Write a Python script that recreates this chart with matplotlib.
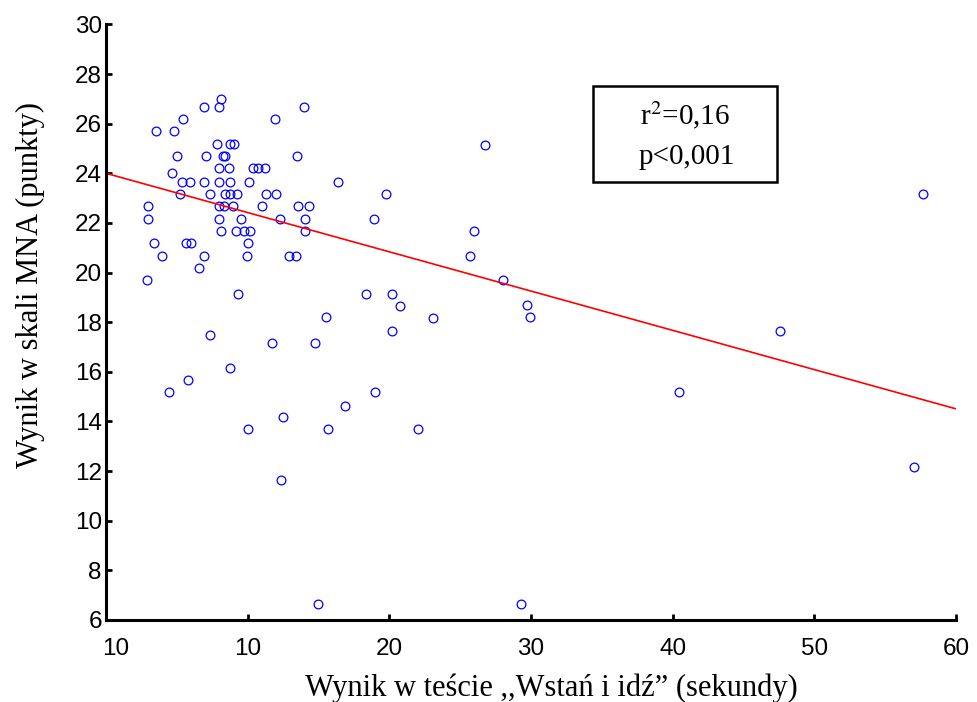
import matplotlib
matplotlib.use("Agg")
import matplotlib.pyplot as plt
import matplotlib.transforms as mtransforms
import numpy as np

# Timed Up and Go test time (seconds) and MNA score (points) per patient
tug_seconds = [
    8.12, 6.94, 8.00, 14.00, 5.46, 11.95, 3.53, 4.80, 7.86, 8.73,
    9.01, 4.99, 7.04, 8.26, 8.42, 13.46, 8.00, 8.66, 10.40, 10.73,
    11.22, 4.66, 5.34, 5.93, 6.94, 8.00, 8.75, 10.07, 16.36, 5.20,
    7.36, 8.38, 8.75, 9.27, 11.27, 12.00, 2.99, 8.00, 8.33, 8.99,
    11.01, 13.55, 14.33, 2.99, 8.00, 9.51, 12.28, 14.03, 8.12, 9.18,
    9.74, 10.19, 14.03, 3.41, 5.63, 5.98, 10.04, 3.93, 6.94, 9.93,
    12.92, 13.39, 6.59, 2.89, 9.30, 15.51, 18.35, 20.19, 20.73, 23.08,
    20.19, 7.34, 11.72, 14.75, 8.75, 5.77, 4.47, 19.01, 16.87, 12.49,
    10.02, 15.69, 22.04, 12.37, 14.94, 26.72, 19.76, 18.90, 25.98, 25.67,
    28.00, 29.72, 29.93, 29.29, 40.42, 57.01, 57.65, 47.60,
]
mna_points = [
    27.00, 26.66, 26.66, 26.66, 26.17, 26.17, 25.70, 25.70, 25.17, 25.17,
    25.17, 24.68, 24.68, 24.68, 24.68, 24.68, 24.20, 24.20, 24.20, 24.20,
    24.20, 24.00, 23.66, 23.66, 23.66, 23.66, 23.66, 23.66, 23.66, 23.18,
    23.18, 23.18, 23.18, 23.18, 23.18, 23.18, 22.69, 22.69, 22.69, 22.69,
    22.69, 22.69, 22.69, 22.16, 22.16, 22.16, 22.16, 22.16, 21.67, 21.67,
    21.67, 21.67, 21.67, 21.19, 21.19, 21.19, 21.19, 20.65, 20.65, 20.65,
    20.65, 20.65, 20.17, 19.70, 19.15, 18.19, 19.15, 19.15, 18.66, 18.18,
    17.64, 17.49, 17.16, 17.16, 16.14, 15.67, 15.19, 15.19, 14.63, 14.17,
    13.68, 13.68, 13.68, 11.64, 6.66, 25.15, 23.18, 22.16, 21.67, 20.65,
    19.69, 18.68, 18.19, 6.64, 15.17, 12.18, 23.18, 17.64,
]

# Regression line: intercept and slope
fit_intercept = 24.0
fit_slope = -0.1582
fit_x = [0, 60]

x_ticks = [0, 10, 20, 30, 40, 50, 60]
x_tick_labels = ["10", "10", "20", "30", "40", "50", "60"]
y_ticks = list(range(6, 31, 2))

r2_text = "r$^2$=0,16"
p_text = "p<0,001"

W, H, DPI = 977, 702, 100
fig = plt.figure(figsize=(W / DPI, H / DPI), dpi=DPI)
ax = fig.add_axes([106 / W, 1 - 620 / H, (956 - 106) / W, (620 - 24.4) / H])

ax.plot(tug_seconds, mna_points, linestyle="none", marker="o",
        markersize=6.3, markerfacecolor="none", markeredgecolor="#0000ff",
        markeredgewidth=0.9)

fx = np.array(fit_x, dtype=float)
ax.plot(fx, fit_intercept + fit_slope * fx, color="#ff0000", linewidth=1.2)

ax.set_xlim(0, 60)
ax.set_ylim(6, 30)
ax.set_xticks(x_ticks)
ax.set_xticklabels(x_tick_labels)
ax.set_yticks(y_ticks)

for side in ("top", "right"):
    ax.spines[side].set_visible(False)
for side in ("left", "bottom"):
    ax.spines[side].set_linewidth(2.2)

ax.tick_params(direction="in", length=4, width=2.0,
               labelsize=17.5, colors="black")
ax.tick_params(axis="x", pad=13)
ax.tick_params(axis="y", pad=3)
for lab in ax.get_xticklabels() + ax.get_yticklabels():
    lab.set_fontfamily("Liberation Sans")

# nudge the first x tick label right of the spine
first = ax.get_xticklabels()[0]
first.set_transform(first.get_transform() +
                    mtransforms.ScaledTranslation(10 / DPI, 0, fig.dpi_scale_trans))

serif = "Liberation Serif"
fig.text(551 / W, 1 - 688 / H, "Wynik w teście ,,Wstań i idź\u201d (sekundy)",
         ha="center", va="center", fontsize=22, family=serif)
fig.text(30 / W, 1 - 285 / H, "Wynik w skali MNA (punkty)", rotation=90,
         ha="center", va="center", fontsize=22, family=serif)

# statistics box
box = plt.Rectangle((593 / W, 1 - 182 / H), (777 - 593) / W, (182 - 86) / H,
                    transform=fig.transFigure, fill=False, edgecolor="black",
                    linewidth=1.8)
fig.patches.append(box)
fig.text(685 / W, 1 - 115 / H, r2_text, ha="center", va="center",
         fontsize=21, family=serif, math_fontfamily="stix")
fig.text(687 / W, 1 - 157 / H, p_text, ha="center", va="center",
         fontsize=21, family=serif)

fig.savefig("out.png", dpi=DPI, facecolor="white")
